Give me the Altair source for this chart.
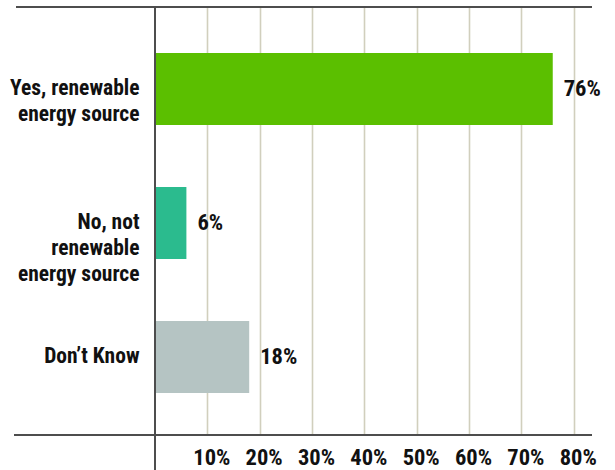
import altair as alt
import pandas as pd

categories = ["Yes, renewable\nenergy source", "No, not\nrenewable\nenergy source", "Don\u2019t Know"]
values = [76, 6, 18]
colors = ["#5bbf00", "#2bbb8e", "#b5c4c3"]
tick_values = [10, 20, 30, 40, 50, 60, 70, 80]

FONT = "Roboto Condensed, Liberation Sans Narrow, Roboto, sans-serif"

df = pd.DataFrame({
    "category": categories,
    "value": values,
    "color": colors,
    "label": [f"{v}%" for v in values],
})

W, H = 437, 428
LINE = "#4d4d4d"
FS = 22.5

base = alt.Chart(df)

y_enc = alt.Y(
    "category:N",
    sort=categories,
    scale=alt.Scale(paddingInner=0.463, paddingOuter=0.328, align=0.523),
    axis=alt.Axis(
        title=None, domain=False, ticks=False,
        labelExpr="split(datum.label, '\\n')",
        labelFont=FONT, labelFontSize=21.5, labelFontWeight="bold",
        labelColor="#111111", labelPadding=16, labelLineHeight=26,
        labelLimit=300,
    ),
)

x_enc = alt.X(
    "value:Q",
    scale=alt.Scale(domain=[0, 83.5], nice=False, zero=True),
    axis=alt.Axis(
        values=tick_values, title=None, domain=False, ticks=False,
        grid=True, gridColor="#d1cfbd", gridWidth=1.6,
        labelExpr="datum.value + '%'",
        labelFont=FONT, labelFontSize=FS, labelFontWeight="bold",
        labelColor="#111111", labelPadding=11, labelOffset=4, labelFlush=False,
    ),
)

bars = base.mark_bar().encode(
    x=x_enc,
    y=y_enc,
    color=alt.Color("color:N", scale=None),
)

texts = base.mark_text(
    align="left", baseline="middle", dx=11,
    font=FONT, fontSize=FS, fontWeight="bold", color="#111111",
).encode(
    x="value:Q",
    y=alt.Y("category:N", sort=categories),
    text="label:N",
)

one = alt.Data(values=[{"a": 1}])
top_rule = alt.Chart(one).mark_rule(color=LINE, strokeWidth=2).encode(
    x=alt.value(-139), x2=alt.value(W), y=alt.value(0)
)
bottom_rule = alt.Chart(one).mark_rule(color=LINE, strokeWidth=2).encode(
    x=alt.value(-141), x2=alt.value(W), y=alt.value(H)
)
v_rule = alt.Chart(one).mark_rule(color=LINE, strokeWidth=2).encode(
    x=alt.value(0), y=alt.value(0), y2=alt.value(H + 40)
)

chart = alt.layer(bars, texts, top_rule, bottom_rule, v_rule).properties(
    width=W, height=H,
    autosize=alt.AutoSizeParams(type="none"),
    padding={"left": 155, "top": 7, "right": 23, "bottom": 35},
    background="white",
).configure_view(stroke=None)

chart.save("out.html", embed_options={"renderer": "svg", "actions": False})
